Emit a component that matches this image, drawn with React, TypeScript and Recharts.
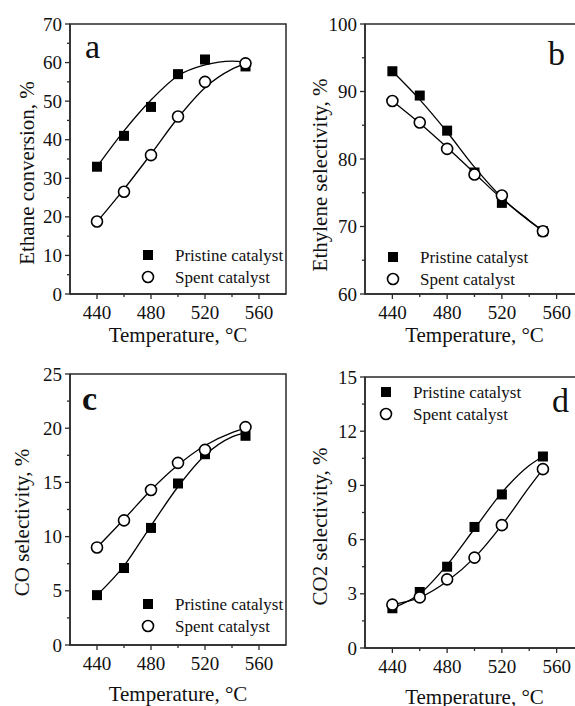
import React from 'react';
import { ComposedChart, Line, Scatter, XAxis, YAxis, ReferenceArea, Legend, Label } from 'recharts';

// Temperatures (°C)
const temps = [440, 460, 480, 500, 520, 550];
const fitTemps = [440, 460, 480, 500, 520, 540, 550];
const xTicks = [440, 460, 480, 500, 520, 540, 560];

// a: Ethane conversion, %
const convPristine = [33, 41, 48.5, 57, 60.8, 59];
const convSpent = [18.8, 26.5, 36, 46, 55, 59.8];
const convPristineFit = [33, 42.3, 50.3, 56.6, 59.4, 60.4, 60.2];
const convSpentFit = [18.7, 27.2, 36.3, 45.7, 53.5, 58.3, 59.8];
const convTicks = [0, 5, 10, 15, 20, 25, 30, 35, 40, 45, 50, 55, 60, 65, 70];

// b: Ethylene selectivity, %
const ethPristine = [93, 89.4, 84.2, 78, 73.5, 69.3];
const ethSpent = [88.6, 85.4, 81.5, 77.7, 74.6, 69.3];
const ethPristineFit = [93, 88.8, 84, 78.8, 74.3, 70.8, 69.3];
const ethSpentFit = [88.6, 85.3, 81.7, 77.9, 74.1, 70.9, 69.3];
const ethTicks = [60, 65, 70, 75, 80, 85, 90, 95, 100];

// c: CO selectivity, %
const coPristine = [4.6, 7.1, 10.8, 14.9, 17.6, 19.3];
const coSpent = [9.0, 11.5, 14.3, 16.8, 18.0, 20.1];
const coPristineFit = [4.6, 7.3, 11.0, 14.6, 17.5, 19.2, 19.6];
const coSpentFit = [9.0, 11.6, 14.3, 16.6, 18.4, 19.6, 20.0];
const coTicks = [0, 2.5, 5, 7.5, 10, 12.5, 15, 17.5, 20, 22.5, 25];

// d: CO2 selectivity, %
const co2Pristine = [2.2, 3.1, 4.5, 6.7, 8.5, 10.6];
const co2Spent = [2.4, 2.8, 3.8, 5.0, 6.8, 9.9];
const co2PristineFit = [2.2, 3.0, 4.6, 6.6, 8.6, 10.1, 10.6];
const co2SpentFit = [2.4, 2.8, 3.7, 5.0, 6.8, 8.9, 9.9];
const co2Ticks = [0, 1.5, 3, 4.5, 6, 7.5, 9, 10.5, 12, 13.5, 15];

const seriesNames = ['Pristine catalyst', 'Spent catalyst'];
const xTitle = 'Temperature, °C';

const FONT = '"Liberation Serif", "Times New Roman", serif';
const AXIS = '#2a2a2a';

const rows = (xs: number[], ys: number[]) => xs.map((t, i) => ({ t, v: ys[i] }));

const Square = (p: any) =>
  p.cx == null ? null : <rect x={p.cx - 5} y={p.cy - 5} width={10} height={10} fill="#000" />;
const Circle = (p: any) =>
  p.cx == null ? null : <circle cx={p.cx} cy={p.cy} r={5.5} fill="#fff" stroke="#000" strokeWidth={1.6} />;

const isMajor = (v: number, step: number) => Math.abs(v / step - Math.round(v / step)) < 1e-6;

const makeYTick = (step: number) => (props: any) => {
  const { x, y, payload } = props;
  const major = isMajor(payload.value, step);
  return (
    <g>
      <line x1={x} x2={x - (major ? 5 : 3)} y1={y} y2={y} stroke={AXIS} strokeWidth={1.3} />
      {major && (
        <text x={x - 8} y={y} textAnchor="end" dominantBaseline="central" fontSize={19} fontFamily={FONT} fill="#111">
          {payload.value}
        </text>
      )}
    </g>
  );
};

const XTick = (props: any) => {
  const { x, y, payload } = props;
  const major = isMajor(payload.value, 40);
  return (
    <g>
      <line x1={x} x2={x} y1={y} y2={y + (major ? 5 : 3)} stroke={AXIS} strokeWidth={1.3} />
      {major && (
        <text x={x} y={y + 18} textAnchor="middle" dominantBaseline="central" fontSize={19} fontFamily={FONT} fill="#111">
          {payload.value}
        </text>
      )}
    </g>
  );
};

const LegendMarker = ({ kind }: { kind: number }) => (
  <svg width={14} height={14} style={{ display: 'block' }}>
    {kind === 0 ? (
      <rect x={2} y={2} width={10} height={10} fill="#000" />
    ) : (
      <circle cx={7} cy={7} r={5.5} fill="#fff" stroke="#000" strokeWidth={1.6} />
    )}
  </svg>
);

const LegendBox = () => (
  <div style={{ fontFamily: FONT, fontSize: 17, color: '#111', lineHeight: 1 }}>
    {seriesNames.map((n, i) => (
      <div key={n} style={{ display: 'flex', alignItems: 'center', height: 22, whiteSpace: 'nowrap' }}>
        <LegendMarker kind={i} />
        <span style={{ marginLeft: 20 }}>{n}</span>
      </div>
    ))}
  </div>
);

type PanelCfg = {
  left: number; top: number; width: number; height: number;
  mTop: number; mRight: number; yWidth: number; xHeight: number;
  yDomain: [number, number]; yTicks: number[]; yStep: number;
  yTitle: string; yTitleX: number; yTitleDy: number; xTitleDy: number;
  letter: string; letterDx: number; letterDy: number; letterBold?: boolean;
  legendLeft: number; legendTop: number;
  pristine: number[]; spent: number[]; pristineFit: number[]; spentFit: number[];
};

const Panel = ({ c }: { c: PanelCfg }) => {
  const yTick = makeYTick(c.yStep);
  return (
    <div style={{ position: 'absolute', left: c.left, top: c.top }}>
      <ComposedChart
        width={c.width}
        height={c.height}
        margin={{ top: c.mTop, right: c.mRight, left: 0, bottom: 0 }}
      >
        <XAxis
          dataKey="t"
          type="number"
          domain={[420, 580]}
          ticks={xTicks}
          interval={0}
          height={c.xHeight}
          tickSize={0}
          tickMargin={0}
          tickLine={false}
          tick={XTick}
          axisLine={{ stroke: AXIS, strokeWidth: 1.5 }}
          allowDataOverflow
        >
          <Label
            content={(p: any) => {
              const vb = p.viewBox || {};
              return (
                <text x={vb.x + vb.width / 2} y={vb.y + c.xTitleDy} textAnchor="middle" fontSize={21} fontFamily={FONT} fill="#111">
                  {xTitle}
                </text>
              );
            }}
          />
        </XAxis>
        <YAxis
          type="number"
          domain={c.yDomain}
          ticks={c.yTicks}
          interval={0}
          width={c.yWidth}
          tickSize={0}
          tickMargin={0}
          tickLine={false}
          tick={yTick}
          axisLine={{ stroke: AXIS, strokeWidth: 1.5 }}
          allowDataOverflow
        >
          <Label
            content={(p: any) => {
              const vb = p.viewBox || {};
              const cx = vb.x + c.yTitleX;
              const cy = vb.y + vb.height / 2 + c.yTitleDy;
              return (
                <text
                  x={cx}
                  y={cy}
                  transform={`rotate(-90, ${cx}, ${cy})`}
                  textAnchor="middle"
                  dominantBaseline="central"
                  fontSize={21}
                  fontFamily={FONT}
                  fill="#111"
                >
                  {c.yTitle}
                </text>
              );
            }}
          />
        </YAxis>
        <ReferenceArea
          x1={420}
          x2={580}
          y1={c.yDomain[0]}
          y2={c.yDomain[1]}
          fill="none"
          stroke={AXIS}
          strokeWidth={1.5}
          ifOverflow="visible"
          label={(p: any) => {
            const vb = p.viewBox || {};
            return (
              <text
                x={vb.x + c.letterDx}
                y={vb.y + c.letterDy}
                fontSize={34}
                fontWeight={c.letterBold ? 'bold' : 'normal'}
                fontFamily={FONT}
                fill="#111"
              >
                {c.letter}
              </text>
            );
          }}
        />
        <Line
          data={rows(fitTemps, c.pristineFit)}
          dataKey="v"
          type="monotone"
          stroke="#000"
          strokeWidth={1.3}
          dot={false}
          activeDot={false}
          isAnimationActive={false}
        />
        <Line
          data={rows(fitTemps, c.spentFit)}
          dataKey="v"
          type="monotone"
          stroke="#000"
          strokeWidth={1.3}
          dot={false}
          activeDot={false}
          isAnimationActive={false}
        />
        <Scatter data={rows(temps, c.pristine)} dataKey="v" shape={Square} isAnimationActive={false} />
        <Scatter data={rows(temps, c.spent)} dataKey="v" shape={Circle} isAnimationActive={false} />
        <Legend
          layout="horizontal"
          verticalAlign="middle"
          align="center"
          content={() => <LegendBox />}
          wrapperStyle={{ left: c.legendLeft, top: c.legendTop, width: 'auto', height: 'auto' }}
        />
      </ComposedChart>
    </div>
  );
};

const panels: PanelCfg[] = [
  {
    left: 0, top: 0, width: 290, height: 350, mTop: 24, mRight: 4, yWidth: 70, xHeight: 56,
    yDomain: [0, 70], yTicks: convTicks, yStep: 10,
    yTitle: 'Ethane conversion, %', yTitleX: 27, yTitleDy: 14, xTitleDy: 48,
    letter: 'a', letterDx: 15, letterDy: 34,
    legendLeft: 141, legendTop: 244,
    pristine: convPristine, spent: convSpent, pristineFit: convPristineFit, spentFit: convSpentFit,
  },
  {
    left: 285, top: 0, width: 300, height: 350, mTop: 24, mRight: 1, yWidth: 80, xHeight: 56,
    yDomain: [60, 100], yTicks: ethTicks, yStep: 10,
    yTitle: 'Ethylene selectivity, %', yTitleX: 35, yTitleDy: 16, xTitleDy: 48,
    letter: 'b', letterDx: 183, letterDy: 41,
    legendLeft: 101, legendTop: 246,
    pristine: ethPristine, spent: ethSpent, pristineFit: ethPristineFit, spentFit: ethSpentFit,
  },
  {
    left: 0, top: 340, width: 290, height: 366, mTop: 34, mRight: 4, yWidth: 70, xHeight: 61,
    yDomain: [0, 25], yTicks: coTicks, yStep: 5,
    yTitle: 'CO selectivity, %', yTitleX: 22, yTitleDy: 13, xTitleDy: 56,
    letter: 'c', letterDx: 12, letterDy: 36, letterBold: true,
    legendLeft: 141, legendTop: 253,
    pristine: coPristine, spent: coSpent, pristineFit: coPristineFit, spentFit: coSpentFit,
  },
  {
    left: 285, top: 340, width: 300, height: 366, mTop: 37, mRight: 1, yWidth: 80, xHeight: 58,
    yDomain: [0, 15], yTicks: co2Ticks, yStep: 3,
    yTitle: 'CO2 selectivity, %', yTitleX: 35, yTitleDy: 14, xTitleDy: 56,
    letter: 'd', letterDx: 187, letterDy: 35,
    legendLeft: 94, legendTop: 41,
    pristine: co2Pristine, spent: co2Spent, pristineFit: co2PristineFit, spentFit: co2SpentFit,
  },
];

export default function App() {
  return (
    <div
      style={{
        position: 'absolute',
        left: 0,
        top: 0,
        width: 575,
        height: 706,
        overflow: 'hidden',
        background: '#fff',
        fontFamily: FONT,
      }}
    >
      {panels.map((p) => (
        <Panel key={p.letter} c={p} />
      ))}
    </div>
  );
}
